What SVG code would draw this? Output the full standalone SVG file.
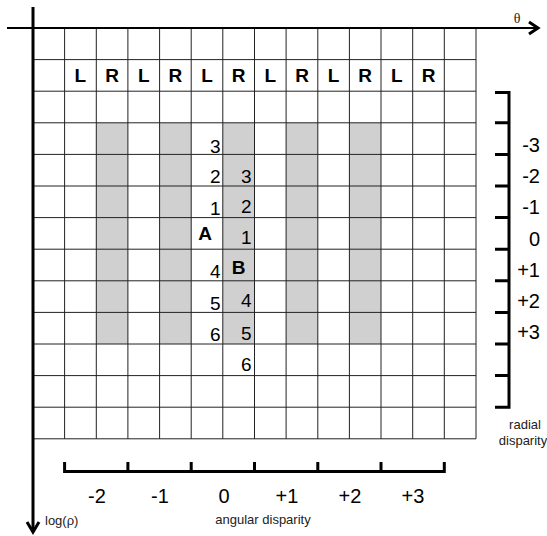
<svg xmlns="http://www.w3.org/2000/svg" width="547" height="536" viewBox="0 0 547 536">
<style>
.grid line{stroke:#222;stroke-width:1}
.shade{fill:#d0d0d0}
.ax{stroke:#000;fill:none}
.lr{font-family:"Liberation Sans",Arial,sans-serif;font-size:19px;font-weight:bold;text-anchor:middle;fill:#000}
.num{font-family:"Liberation Sans",Arial,sans-serif;font-size:19px;text-anchor:end;fill:#000}
.ab{font-family:"Liberation Sans",Arial,sans-serif;font-size:19px;font-weight:bold;text-anchor:middle;fill:#000}
.sc{font-family:"Liberation Sans",Arial,sans-serif;font-size:20px;fill:#000}
.cap{font-family:"Liberation Sans",Arial,sans-serif;font-size:13px;fill:#222}
.bar{stroke:#000;stroke-width:3;fill:none}
</style>
<rect width="547" height="536" fill="#fff"/>
<g id="shading">
<rect class="shade" x="96.3" y="122.8" width="31.6" height="221.2"/>
<rect class="shade" x="159.6" y="122.8" width="31.6" height="221.2"/>
<rect class="shade" x="222.8" y="122.8" width="31.7" height="221.2"/>
<rect class="shade" x="286.1" y="122.8" width="31.7" height="221.2"/>
<rect class="shade" x="349.4" y="122.8" width="31.6" height="221.2"/>
</g>
<g id="grid" class="grid">
<line x1="64.6" y1="28" x2="64.6" y2="438.8"/>
<line x1="96.3" y1="28" x2="96.3" y2="438.8"/>
<line x1="127.9" y1="28" x2="127.9" y2="438.8"/>
<line x1="159.6" y1="28" x2="159.6" y2="438.8"/>
<line x1="191.2" y1="28" x2="191.2" y2="438.8"/>
<line x1="222.8" y1="28" x2="222.8" y2="438.8"/>
<line x1="254.5" y1="28" x2="254.5" y2="438.8"/>
<line x1="286.1" y1="28" x2="286.1" y2="438.8"/>
<line x1="317.8" y1="28" x2="317.8" y2="438.8"/>
<line x1="349.4" y1="28" x2="349.4" y2="438.8"/>
<line x1="381" y1="28" x2="381" y2="438.8"/>
<line x1="412.7" y1="28" x2="412.7" y2="438.8"/>
<line x1="444.3" y1="28" x2="444.3" y2="438.8"/>
<line x1="476" y1="28" x2="476" y2="438.8"/>
<line x1="33" y1="59.6" x2="476" y2="59.6"/>
<line x1="33" y1="91.2" x2="476" y2="91.2"/>
<line x1="33" y1="122.8" x2="476" y2="122.8"/>
<line x1="33" y1="154.4" x2="476" y2="154.4"/>
<line x1="33" y1="186" x2="476" y2="186"/>
<line x1="33" y1="217.6" x2="476" y2="217.6"/>
<line x1="33" y1="249.2" x2="476" y2="249.2"/>
<line x1="33" y1="280.8" x2="476" y2="280.8"/>
<line x1="33" y1="312.4" x2="476" y2="312.4"/>
<line x1="33" y1="344" x2="476" y2="344"/>
<line x1="33" y1="375.6" x2="476" y2="375.6"/>
<line x1="33" y1="407.2" x2="476" y2="407.2"/>
<line x1="33" y1="438.8" x2="476" y2="438.8"/>
</g>
<g id="axes">
<line class="ax" x1="7" y1="28" x2="538" y2="28" stroke-width="2"/>
<polyline class="ax" points="529,22 538,28 529,34" stroke-width="3"/>
<text x="517" y="23" font-family="Liberation Serif,serif" font-size="14" text-anchor="middle" fill="#222">θ</text>
<line class="ax" x1="33" y1="7" x2="33" y2="532" stroke-width="3"/>
<polyline class="ax" points="27,522 33,532 39,522" stroke-width="3"/>
<text class="cap" x="45" y="525">log(ρ)</text>
</g>
<g id="lr-labels">
<text class="lr" x="80.4" y="82">L</text>
<text class="lr" x="112.1" y="82">R</text>
<text class="lr" x="143.7" y="82">L</text>
<text class="lr" x="175.4" y="82">R</text>
<text class="lr" x="207" y="82">L</text>
<text class="lr" x="238.6" y="82">R</text>
<text class="lr" x="270.3" y="82">L</text>
<text class="lr" x="302" y="82">R</text>
<text class="lr" x="333.6" y="82">L</text>
<text class="lr" x="365.2" y="82">R</text>
<text class="lr" x="396.9" y="82">L</text>
<text class="lr" x="428.5" y="82">R</text>
</g>
<g id="column-A">
<text class="num" x="220.5" y="152.5">3</text>
<text class="num" x="220.5" y="183">2</text>
<text class="num" x="220.5" y="214.5">1</text>
<text class="ab" x="205" y="240">A</text>
<text class="num" x="220.5" y="278">4</text>
<text class="num" x="220.5" y="310">5</text>
<text class="num" x="220.5" y="341">6</text>
</g>
<g id="column-B">
<text class="num" x="251.5" y="183">3</text>
<text class="num" x="251.5" y="213">2</text>
<text class="num" x="251.5" y="244">1</text>
<text class="ab" x="238.5" y="274">B</text>
<text class="num" x="251.5" y="307">4</text>
<text class="num" x="251.5" y="340">5</text>
<text class="num" x="251.5" y="371">6</text>
</g>
<g id="radial-scale">
<path class="bar" d="M495,92.5 H509 V407.2 H495"/>
<path class="bar" d="M495,122.8 H509 M495,154.4 H509 M495,186 H509 M495,217.6 H509 M495,249.2 H509 M495,280.8 H509 M495,312.4 H509 M495,344 H509 M495,375.6 H509"/>
<g class="sc" text-anchor="end">
<text x="540" y="152">-3</text>
<text x="540" y="183">-2</text>
<text x="540" y="214">-1</text>
<text x="540" y="246">0</text>
<text x="540" y="277">+1</text>
<text x="540" y="308">+2</text>
<text x="540" y="339">+3</text>
</g>
<text class="cap" x="525" y="429" text-anchor="middle">radial</text>
<text class="cap" x="523" y="445" text-anchor="middle">disparity</text>
</g>
<g id="angular-scale">
<path class="bar" d="M64.6,462 V471.5 H444.3 V462"/>
<path class="bar" d="M127.9,462 V471.5 M191.2,462 V471.5 M254.5,462 V471.5 M317.8,462 V471.5 M381,462 V471.5"/>
<g class="sc" text-anchor="middle">
<text x="97" y="503">-2</text>
<text x="160" y="503">-1</text>
<text x="224" y="503">0</text>
<text x="287" y="503">+1</text>
<text x="350" y="503">+2</text>
<text x="413" y="503">+3</text>
</g>
<text class="cap" x="263" y="524" text-anchor="middle">angular disparity</text>
</g>
</svg>
